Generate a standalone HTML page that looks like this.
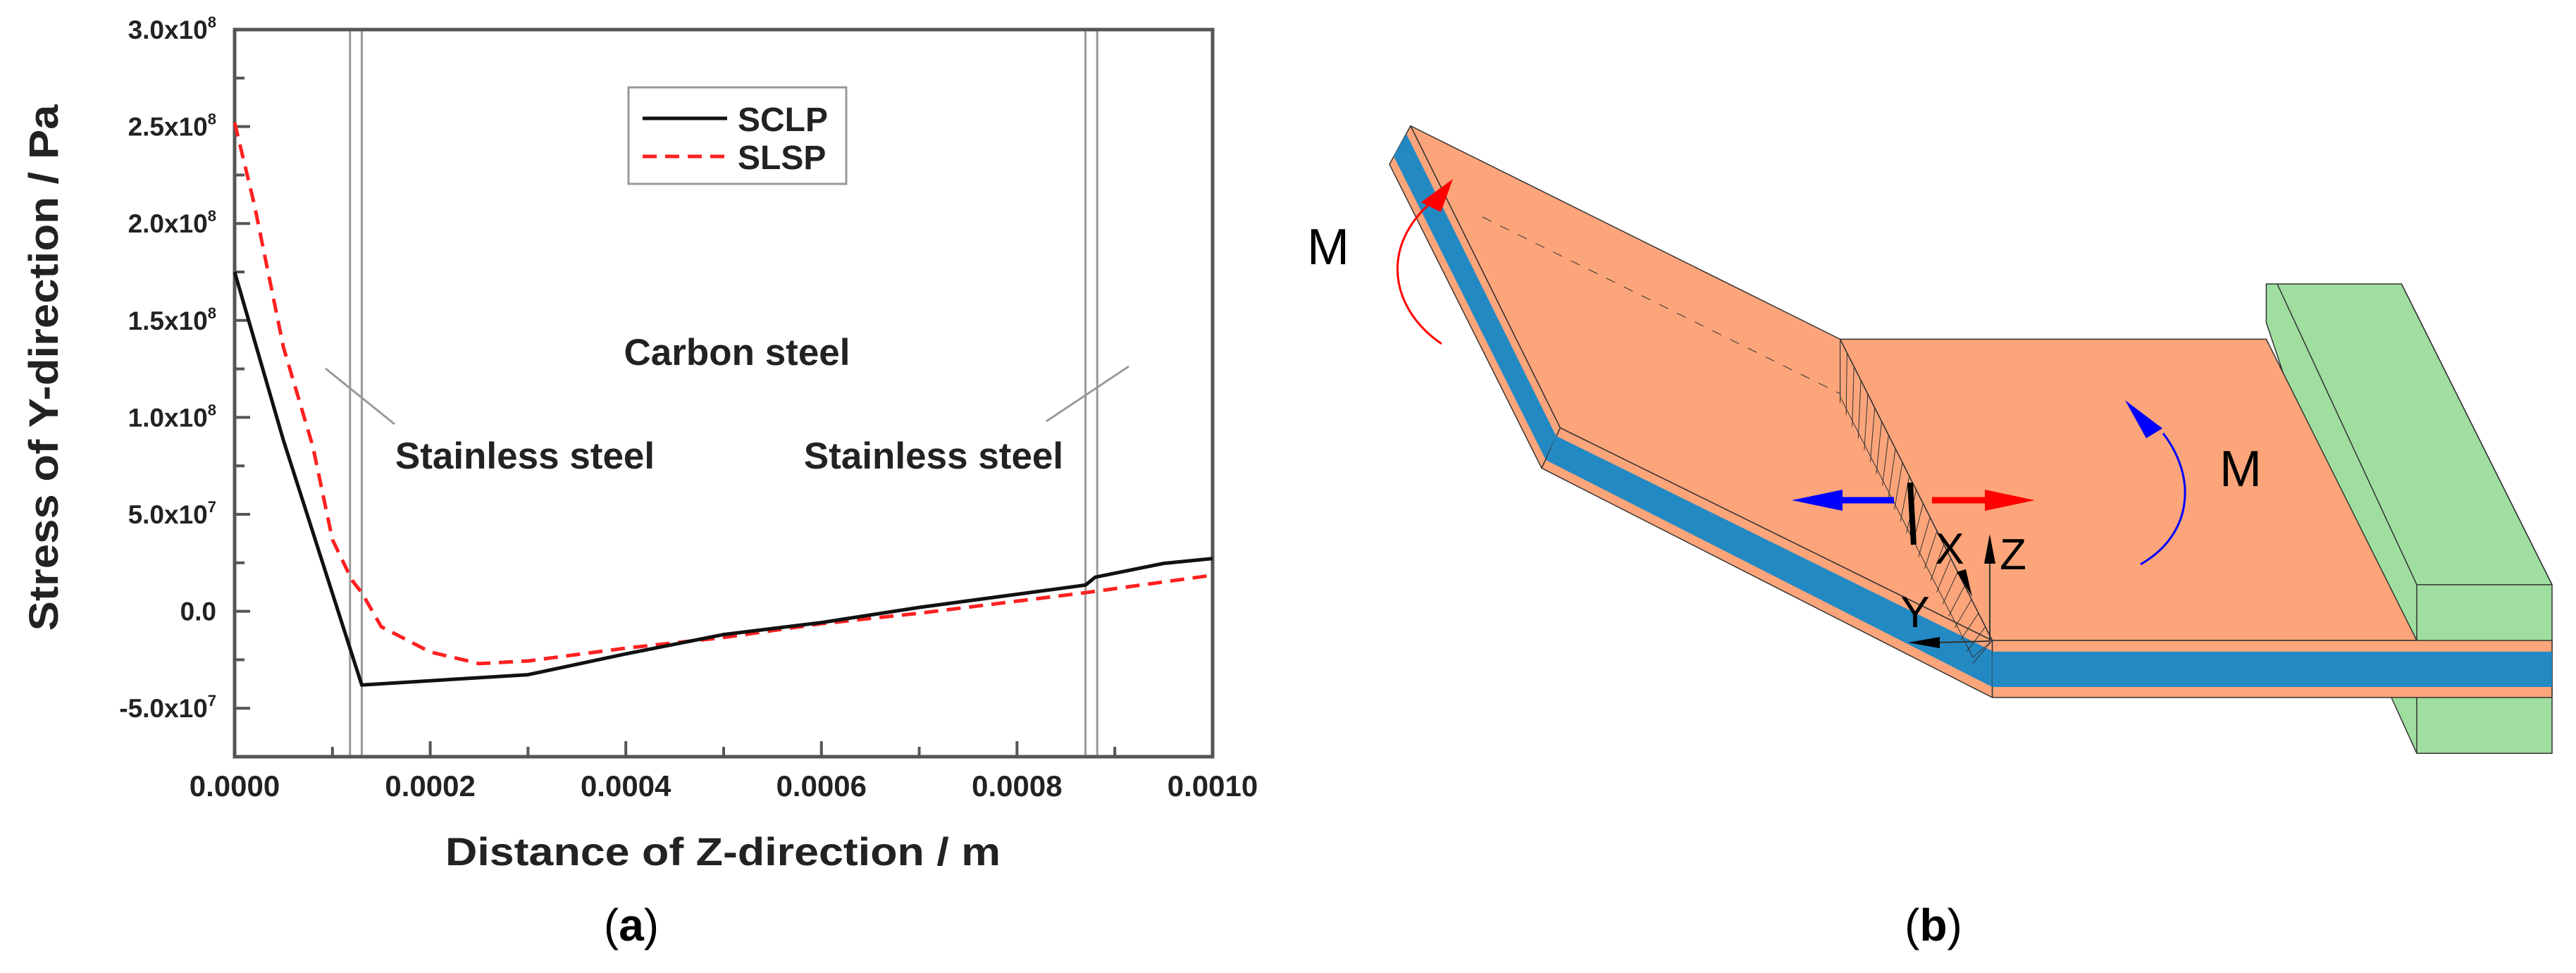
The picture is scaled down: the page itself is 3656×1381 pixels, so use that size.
<!DOCTYPE html>
<html><head><meta charset="utf-8"><style>
html,body{margin:0;padding:0;background:#fff;}
svg{display:block;}
text{font-family:"Liberation Sans",Arial,sans-serif;}
</style></head><body>
<svg id="root" width="3656" height="1381" viewBox="0 0 3656 1381" xmlns="http://www.w3.org/2000/svg">
<g id="chart"></g>
<text x="896" y="1335" font-family="Liberation Serif,serif" font-size="64" text-anchor="middle">(<tspan font-weight="bold">a</tspan>)</text>

<g>
 <g transform="matrix(1.2,0,0,0.88,1780,0)" stroke="#333" stroke-width="1.5" stroke-linejoin="round">
  <g>
   <polygon points="1197,458 1357,458 1535,943 1535,1215 1375,1215 1345,1125 1197,520" fill="#A0DEA0" vector-effect="non-scaling-stroke"/>
   <polyline points="1357,458 1535,943 1375,943 1375,1215" fill="none" vector-effect="non-scaling-stroke"/>
   <line x1="1210" y1="458" x2="1375" y2="943" vector-effect="non-scaling-stroke"/>
  </g>
  <g>
   <polygon points="185,203 362,690 340,755 160,265" fill="#FCA57A" vector-effect="non-scaling-stroke"/>
   <polygon points="180,216 357,703 345,742 165,252" fill="#2389C3" stroke="none"/>
   <polygon points="362,690 873,1033 873,1125 340,755" fill="#FCA57A" vector-effect="non-scaling-stroke"/>
   <polygon points="357,703 873,1050 873,1108 345,742" fill="#2389C3" stroke="none"/>
   <polygon points="185,203 693,547 873,1033 362,690" fill="#FCA57A" vector-effect="non-scaling-stroke"/>
  </g>
  <g>
   <polygon points="693,547 1197,547 1375,1033 873,1033" fill="#FCA57A" vector-effect="non-scaling-stroke"/>
   <rect x="873" y="1033" width="662" height="92" fill="#FCA57A" vector-effect="non-scaling-stroke"/>
   <rect x="873" y="1051" width="662" height="57" fill="#2389C3" stroke="none"/>
  </g>
  <g stroke-width="1">
   <polygon points="693,547 873,1033 850,1060 693,640" fill="none" vector-effect="non-scaling-stroke"/>
   <path id="hatch" fill="none" vector-effect="non-scaling-stroke" d=""/>
  </g>
  <line x1="270" y1="350" x2="693" y2="635" stroke-dasharray="14,14" stroke-width="1" vector-effect="non-scaling-stroke"/>
 </g>
 <g>
  <line x1="2824" y1="800" x2="2824" y2="910" stroke="#333" stroke-width="2"/>
  <path d="M2824,758 L2816,800 L2832,800 Z" fill="#000"/>
  <line x1="2824" y1="910" x2="2750" y2="912" stroke="#333" stroke-width="2"/>
  <path d="M2708,912 L2753,904 L2753,920 Z" fill="#000"/>
  <path d="M2799,847 L2777,812 L2790,808 Z" fill="#000"/>
 </g>
 <line x1="2711" y1="685" x2="2716" y2="773" stroke="#000" stroke-width="8"/>
 <g><line x1="2688" y1="710" x2="2612" y2="710" stroke="#0000FF" stroke-width="9"/><path d="M2543,710 L2615,695 L2615,725 Z" fill="#0000FF"/></g>
 <g><line x1="2742" y1="710" x2="2820" y2="710" stroke="#FF0000" stroke-width="9"/><path d="M2888,710 L2817,695 L2817,725 Z" fill="#FF0000"/></g>
 <g><path d="M2046,488 C1975,440 1955,350 2036,283" fill="none" stroke="#FF0000" stroke-width="3"/><path d="M2062,254 L2017,287 L2045,301 Z" fill="#FF0000"/></g>
 <g><path d="M3038,801 C3110,760 3120,680 3070,615" fill="none" stroke="#0000FF" stroke-width="3"/><path d="M3016,568 L3046,622 L3069,608 Z" fill="#0000FF"/></g>
 <text x="2767" y="800" font-size="62" text-anchor="middle">X</text>
 <text x="2857" y="808" font-size="62" text-anchor="middle">Z</text>
 <text x="2718" y="890" font-size="62" text-anchor="middle">Y</text>
 <text x="1885" y="375" font-size="72" text-anchor="middle">M</text>
 <text x="3180" y="690" font-size="72" text-anchor="middle">M</text>
</g>
<text x="2744" y="1335" font-family="Liberation Serif,serif" font-size="64" text-anchor="middle">(<tspan font-weight="bold">b</tspan>)</text>
</svg>
<script>
const xTicks=[0,0.0002,0.0004,0.0006,0.0008,0.001];
const xTickLabels=["0.0000","0.0002","0.0004","0.0006","0.0008","0.0010"];
const yTicks=[-5e7,0,5e7,1e8,1.5e8,2e8,2.5e8,3e8];
const yTickMant=["-5.0","0.0","5.0","1.0","1.5","2.0","2.5","3.0"];
const yTickExp=["7","","7","8","8","8","8","8"];
const sclpX=[0,0.00005,0.00013,0.0003,0.0004,0.0005,0.0006,0.0007,0.00087,0.00088,0.00095,0.001];
const sclpY=[1.75e8,8.8e7,-3.8e7,-3.27e7,-2.2e7,-1.2e7,-5.8e6,2e6,1.35e7,1.76e7,2.47e7,2.72e7];
const slspX=[0,0.00002,0.00005,0.00008,0.0001,0.00012,0.00013,0.00015,0.0002,0.00025,0.0003,0.0004,0.0005,0.0006,0.0007,0.00087,0.001];
const slspY=[2.52e8,2.1e8,1.36e8,8.5e7,3.7e7,1.6e7,9.6e6,-8e6,-2.1e7,-2.7e7,-2.56e7,-1.9e7,-1.35e7,-6.4e6,-1e6,9.6e6,1.86e7];
const interfaceX=[0.000118,0.00013,0.00087,0.000882];

const NS="http://www.w3.org/2000/svg";
const L=333,R=1721,T=42,B=1074,XMIN=0,XMAX=0.001,YMIN=-7.5e7,YMAX=3e8;
const sx=v=>L+(v-XMIN)/(XMAX-XMIN)*(R-L);
const sy=v=>B-(v-YMIN)/(YMAX-YMIN)*(B-T);
const g=document.getElementById('chart');
function mk(tag,attrs,parent){const e=document.createElementNS(NS,tag);for(const k in attrs)e.setAttribute(k,attrs[k]);(parent||g).appendChild(e);return e;}

interfaceX.forEach((v,i)=>{
 const l=mk('line',{x1:sx(v),x2:sx(v),y1:T,y2:B,stroke:'#999','stroke-width':3});
 
 
});
for(let i=0;i<=10;i++){
 const v=i*0.0001, len=i%2?14:22;
 const t=mk('line',{x1:sx(v),x2:sx(v),y1:B,y2:B-len,stroke:'#555','stroke-width':4});
 
 
}
for(let v=-7.5e7;v<=3e8+1;v+=2.5e7){
 const major=Math.abs((v/5e7)-Math.round(v/5e7))<1e-6;
 const t=mk('line',{x1:L,x2:L+(major?22:14),y1:sy(v),y2:sy(v),stroke:'#555','stroke-width':4});
 
 
}
const frame=mk('rect',{x:L,y:T,width:R-L,height:B-T,fill:'none',stroke:'#555','stroke-width':5});



xTicks.forEach((v,i)=>{
 const t=mk('text',{x:sx(v),y:1130,'font-size':42,'font-weight':'bold','text-anchor':'middle',fill:'#222'});
 t.textContent=xTickLabels[i];
 
 
});
yTicks.forEach((v,i)=>{
 const t=mk('text',{x:307,y:sy(v)+13,'font-size':37,'font-weight':'bold','text-anchor':'end',fill:'#222'});
 if(yTickExp[i]){
  t.textContent=yTickMant[i]+'x10';
  const s=mk('tspan',{dy:-16,'font-size':22},t);s.textContent=yTickExp[i];
 } else t.textContent=yTickMant[i];
 
 
});
function series(xs,ys,attrs,name){
 const d=xs.map((x,i)=>(i?'L':'M')+sx(x).toFixed(1)+','+sy(ys[i]).toFixed(1)).join(' ');
 const p=mk('path',Object.assign({d:d,fill:'none','stroke-linejoin':'round'},attrs));
 
 
}
series(slspX,slspY,{stroke:'#FF2020','stroke-width':5,'stroke-dasharray':'20,12'},'slsp-line');
series(sclpX,sclpY,{stroke:'#111','stroke-width':5},'sclp-line');

const lg=mk('g',{});


mk('rect',{x:892,y:124,width:309,height:137,fill:'#fff',stroke:'#999','stroke-width':3},lg);
mk('line',{x1:912,x2:1032,y1:168,y2:168,stroke:'#111','stroke-width':5},lg);
mk('line',{x1:912,x2:1032,y1:222,y2:222,stroke:'#FF2020','stroke-width':5,'stroke-dasharray':'20,12'},lg);
const t1=mk('text',{x:1047,y:186,'font-size':48,'font-weight':'bold',fill:'#222'},lg);t1.textContent='SCLP';


const t2=mk('text',{x:1047,y:240,'font-size':48,'font-weight':'bold',fill:'#222'},lg);t2.textContent='SLSP';



function label(txt,x,y,fs,anchor,name){const t=mk('text',{x:x,y:y,'font-size':fs,'font-weight':'bold','text-anchor':anchor,fill:'#222'});t.textContent=txt;
 
 return t;}
label('Carbon steel',1046,518,53,'middle','carbon-steel-label');
label('Stainless steel',745,665,53,'middle','stainless-steel-label-left');
label('Stainless steel',1325,665,53,'middle','stainless-steel-label-right');
const p1=mk('line',{x1:462,y1:523,x2:560,y2:602,stroke:'#999','stroke-width':3});


const p2=mk('line',{x1:1602,y1:520,x2:1485,y2:598,stroke:'#999','stroke-width':3});


const xt=label('Distance of Z-direction / m',1026,1228,56,'middle','x-axis-title');
xt.setAttribute('textLength','788');
xt.setAttribute('lengthAdjust','spacingAndGlyphs');
const yt=label('Stress of Y-direction / Pa',0,0,58,'middle','y-axis-title');
yt.setAttribute('textLength','747');
yt.setAttribute('lengthAdjust','spacingAndGlyphs');
yt.setAttribute('transform','translate(82,522) rotate(-90)');

let hd='';
for(let k=0;k<=22;k++){const f=k/22;const x1=693+f*180,y1=547+f*486;const x2=693+f*157,y2=640+f*420;hd+=`M${x2},${y2+10} L${x1},${y1}`;}
document.getElementById('hatch').setAttribute('d',hd);
</script>
</body></html>
